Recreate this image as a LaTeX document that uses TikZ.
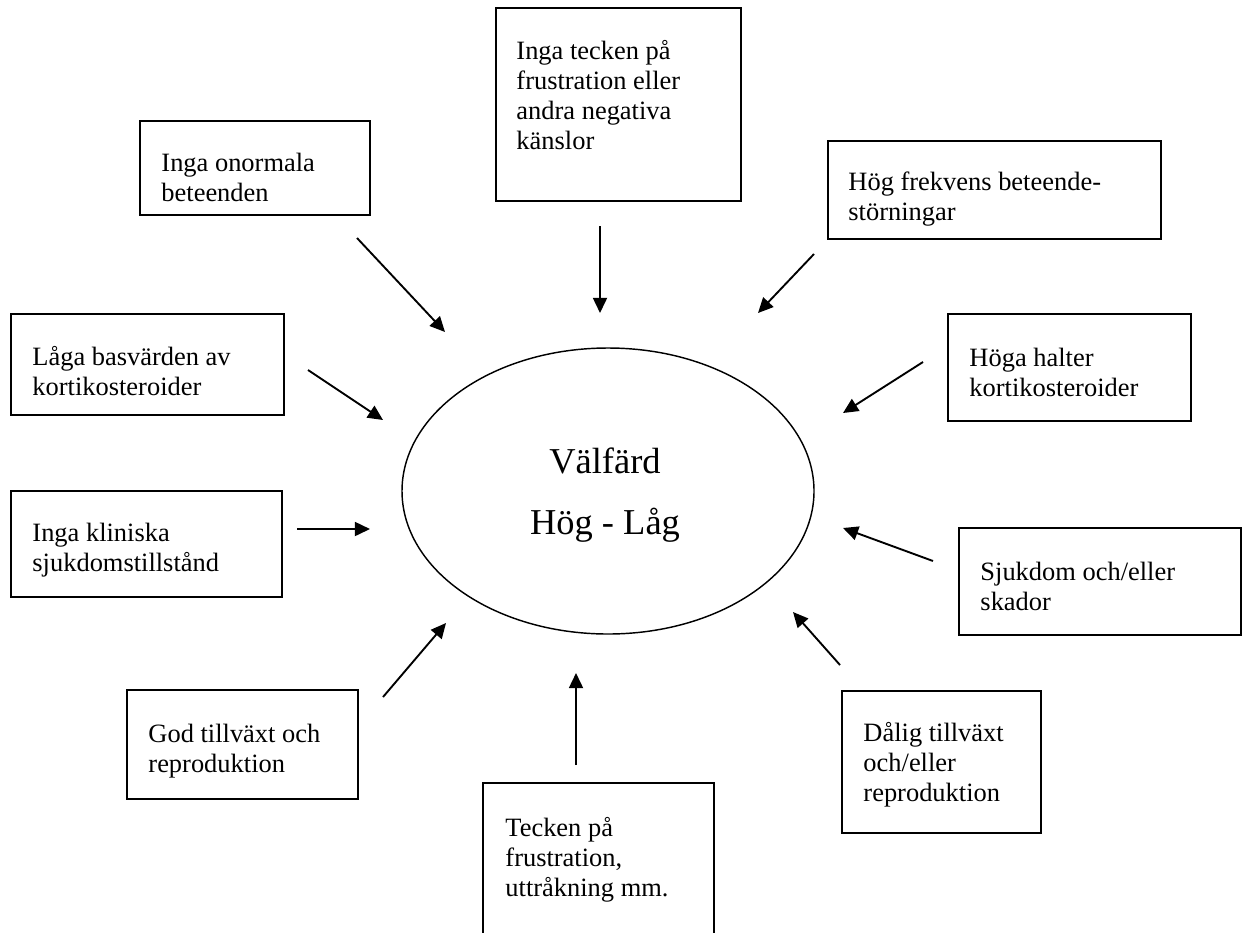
\documentclass[tikz,border=0pt]{standalone}
\usepackage{fontspec}
\setmainfont{Liberation Serif}
\usetikzlibrary{arrows.meta,shapes.geometric,fit}
\newcommand\boxtext[1]{\parbox[t]{8cm}{\raggedright #1}}
\begin{document}
\begin{tikzpicture}[x=0.45pt,y=-0.45pt,
  frame/.style={draw, line width=0.85pt, rectangle, inner sep=0pt},
  txt/.style={anchor=base west, inner sep=0pt, font=\fontsize{11.9pt}{13.5pt}\selectfont},
  bigtxt/.style={anchor=base, inner sep=0pt, font=\fontsize{16.4pt}{20pt}\selectfont},
  arr/.style={line width=0.85pt, -{Triangle[length=6.8pt,width=6.3pt]}}]
\useasboundingbox (0,0) rectangle (1244,932);

% central ellipse
\node[draw, ellipse, line width=0.65pt, minimum width=185.4pt, minimum height=128.7pt, inner sep=0pt] (e) at (608,491) {};
\node[bigtxt] (e1) at (605,473) {Välfärd};
\node[bigtxt] (e2) at (605,534) {Hög - Låg};

% boxes
\node[frame, fit={(140,121) (370,215)}] (b1) {};
\node[txt] (t1) at (161,171) {\boxtext{Inga onormala\\beteenden}};

\node[frame, fit={(496,8) (741,201)}] (b2) {};
\node[txt] (t2) at (516,59) {\boxtext{Inga tecken på\\frustration eller\\andra negativa\\känslor}};

\node[frame, fit={(828,141) (1161,239)}] (b3) {};
\node[txt] (t3) at (848,190) {\boxtext{Hög frekvens beteende-\\störningar}};

\node[frame, fit={(11,314) (284,415)}] (b4) {};
\node[txt] (t4) at (32,365) {\boxtext{Låga basvärden av\\kortikosteroider}};

\node[frame, fit={(948,314) (1191,421)}] (b5) {};
\node[txt] (t5) at (969,366) {\boxtext{Höga halter\\kortikosteroider}};

\node[frame, fit={(11,491) (282,597)}] (b6) {};
\node[txt] (t6) at (32,541) {\boxtext{Inga kliniska\\sjukdomstillstånd}};

\node[frame, fit={(959,528) (1241,635)}] (b7) {};
\node[txt] (t7) at (980,580) {\boxtext{Sjukdom och/eller\\skador}};

\node[frame, fit={(127,690) (358,799)}] (b8) {};
\node[txt] (t8) at (148,742) {\boxtext{God tillväxt och\\reproduktion}};

\node[frame, fit={(483,783) (714,950)}] (b9) {};
\node[txt] (t9) at (505,836) {\boxtext{Tecken på\\frustration,\\uttråkning mm.}};

\node[frame, fit={(842,691) (1041,833)}] (b10) {};
\node[txt] (t10) at (863,741) {\boxtext{Dålig tillväxt\\och/eller\\reproduktion}};

% arrow end points
\coordinate (s1) at (357,238);  \coordinate (p1) at (445,332);
\coordinate (s2) at (600,226);  \coordinate (p2) at (600,313);
\coordinate (s3) at (814,254);  \coordinate (p3) at (758,313);
\coordinate (s4) at (308,370);  \coordinate (p4) at (383,420);
\coordinate (s5) at (923,362);  \coordinate (p5) at (843,413);
\coordinate (s6) at (297,529);  \coordinate (p6) at (370,529);
\coordinate (s7) at (933,561);  \coordinate (p7) at (843,528);
\coordinate (s8) at (383,697);  \coordinate (p8) at (446,623);
\coordinate (s9) at (576,765);  \coordinate (p9) at (576,673);
\coordinate (s10) at (840,665); \coordinate (p10) at (793,612);

\foreach \i in {1,...,10} { \draw[arr] (s\i) -- (p\i); }
\end{tikzpicture}
\end{document}
